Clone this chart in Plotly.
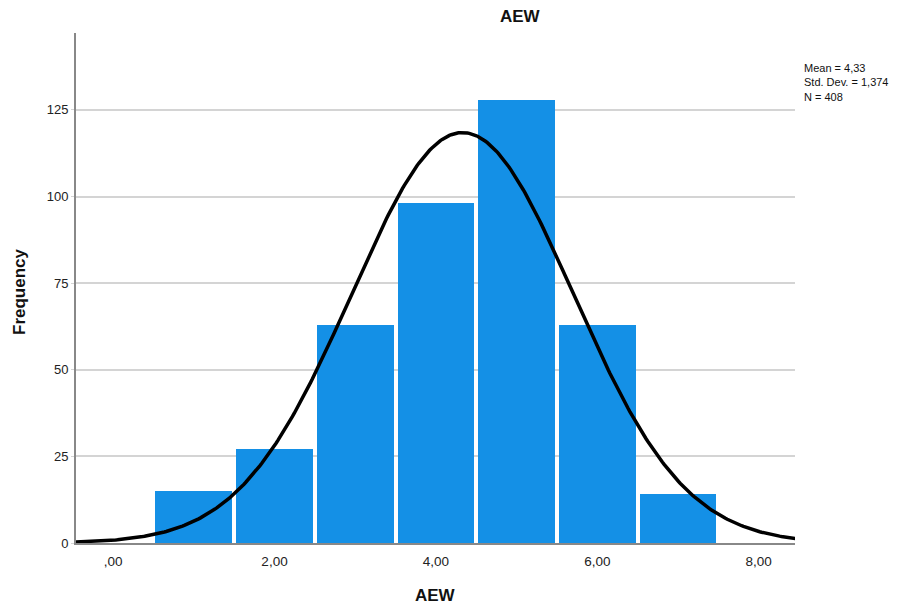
import numpy as np
import plotly.graph_objects as go

# Data
bin_centers = [1, 2, 3, 4, 5, 6, 7]
frequencies = [15, 27, 63, 98, 128, 63, 14]
mean_val = 4.33
sd_val = 1.374
n_val = 408
bin_width = 1.0
x_tickvals = [0, 2, 4, 6, 8]
x_ticktext = [",00", "2,00", "4,00", "6,00", "8,00"]
y_tickvals = [0, 25, 50, 75, 100, 125]

FONT = "Liberation Sans, Arial, sans-serif"

# The page body adds an 8px offset; compensate so the figure lands on the window grid
OFF = 8
WIN_W, WIN_H = 911, 606
W, H = WIN_W - OFF, WIN_H - OFF
# target plot area in window pixels
PL, PR, PT, PB = 76, 795, 33, 543
L, T = PL - OFF, PT - OFF
R = W - (PR - OFF)
B = H - (PB - OFF)
PW, PH = W - L - R, H - T - B

def px_x(x):
    return (x - OFF - L) / PW

def px_y(y):
    return (H - B - (y - OFF)) / PH

# Normal curve from the stated parameters
xs = np.linspace(-0.46, 8.46, 400)
ys = n_val * bin_width / (sd_val * np.sqrt(2 * np.pi)) * np.exp(-0.5 * ((xs - mean_val) / sd_val) ** 2)

fig = go.Figure()
fig.add_trace(go.Bar(
    x=bin_centers, y=frequencies, width=0.95,
    marker=dict(color="#1490E6", line=dict(width=0)),
    hoverinfo="x+y",
))
fig.add_trace(go.Scatter(
    x=xs, y=ys, mode="lines",
    line=dict(color="black", width=3.5),
    hoverinfo="skip",
))

fig.update_layout(
    width=W, height=H,
    margin=dict(l=L, r=R, t=T, b=B, autoexpand=False),
    paper_bgcolor="white", plot_bgcolor="white",
    showlegend=False,
    bargap=0,
    font=dict(family=FONT, size=12, color="#222222"),
    xaxis=dict(
        range=[-0.46, 8.45],
        tickvals=x_tickvals, ticktext=x_ticktext,
        showgrid=False, zeroline=False,
        showline=True, linecolor="#888888", linewidth=2,
        ticks="outside", ticklen=5, tickcolor="rgba(0,0,0,0)",
        tickfont=dict(size=13.5, color="#222222"),
        automargin=False,
    ),
    yaxis=dict(
        range=[0, 147.2],
        tickvals=y_tickvals,
        showgrid=True, gridcolor="#D4D4D4", gridwidth=2,
        zeroline=False,
        showline=True, linecolor="#888888", linewidth=2,
        ticks="outside", ticklen=3, tickcolor="#D4D4D4",
        tickfont=dict(size=13, color="#222222"),
        automargin=False,
    ),
    annotations=[
        dict(
            text="<b>AEW</b>", xref="paper", yref="paper",
            x=px_x(520), y=px_y(17),
            xanchor="center", yanchor="middle", showarrow=False,
            font=dict(size=17, color="#111111"),
        ),
        dict(
            text="<b>AEW</b>", xref="paper", yref="paper",
            x=px_x(435), y=px_y(595),
            xanchor="center", yanchor="middle", showarrow=False,
            font=dict(size=17, color="#111111"),
        ),
        dict(
            text="<b>Frequency</b>", xref="paper", yref="paper",
            x=px_x(19), y=px_y(292), textangle=-90,
            xanchor="center", yanchor="middle", showarrow=False,
            font=dict(size=17, color="#111111"),
        ),
        dict(
            text="Mean = 4,33<br>Std. Dev. = 1,374<br>N = 408",
            xref="paper", yref="paper",
            x=px_x(802), y=px_y(60),
            xanchor="left", yanchor="top", align="left", showarrow=False,
            font=dict(family=FONT, size=11, color="#111111"),
        ),
    ],
)

fig.write_html("out.html")
